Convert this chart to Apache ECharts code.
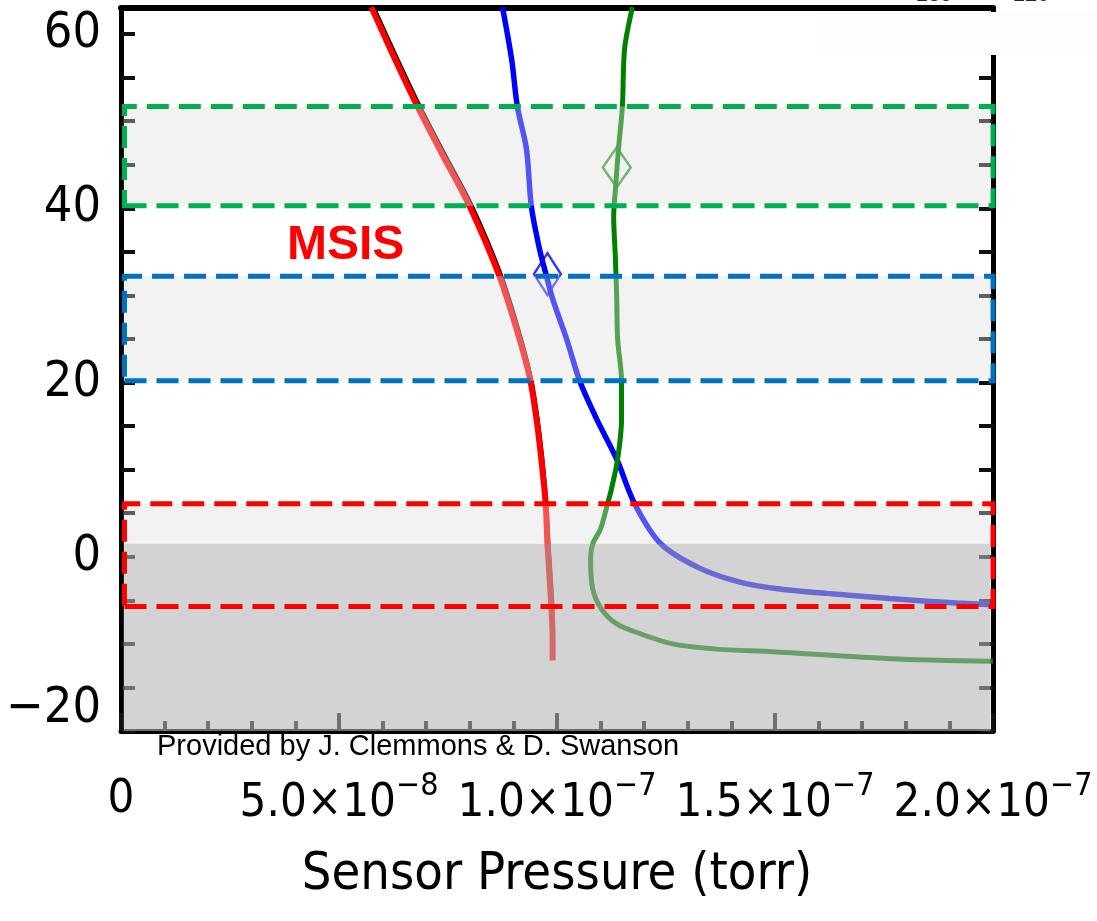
<!DOCTYPE html>
<html>
<head>
<meta charset="utf-8">
<script src="https://cdn.jsdelivr.net/npm/echarts@6/dist/echarts.min.js"></script>
<style>
  html, body { margin: 0; padding: 0; background: #fff; }
  #chart { width: 1097px; height: 921px; }
</style>
</head>
<body>
<div id="chart"></div>
<script>
// curves: [pressure (torr), altitude]
const redCurve = [
  [5.74e-8, 63.1], [6.25e-8, 57.5], [6.80e-8, 51.7], [7.39e-8, 46.0], [7.99e-8, 40.3],
  [8.68e-8, 32.2], [9.14e-8, 25.0], [9.39e-8, 20.2], [9.53e-8, 15.8], [9.64e-8, 11.2],
  [9.74e-8, 6.1], [9.78e-8, 1.5], [9.87e-8, -5.7], [9.90e-8, -9.4], [9.90e-8, -11.9]
];
const blackCurve = [
  [5.82e-8, 63.1], [6.33e-8, 57.5], [6.88e-8, 51.7], [7.47e-8, 46.0], [8.07e-8, 40.3],
  [8.75e-8, 32.2], [9.20e-8, 25.0], [9.44e-8, 20.2], [9.58e-8, 15.8], [9.69e-8, 11.2],
  [9.78e-8, 6.1], [9.83e-8, 1.5], [9.91e-8, -4.8], [9.93e-8, -7.7]
];
const blueCurve = [
  [8.75e-8, 63.1], [8.96e-8, 57.1], [9.09e-8, 51.7], [9.30e-8, 46.8], [9.41e-8, 40.3],
  [9.60e-8, 35.3], [9.76e-8, 32.2], [9.90e-8, 29.6], [10.22e-8, 25.0], [10.52e-8, 20.2],
  [10.91e-8, 15.8], [11.37e-8, 11.2], [11.78e-8, 6.1], [12.38e-8, 1.5], [13.27e-8, -1.3],
  [14.19e-8, -2.9], [15.11e-8, -3.7], [16.19e-8, -4.2], [17.63e-8, -4.8], [19.17e-8, -5.3],
  [20.0e-8, -5.5]
];
const greenCurve = [
  [11.73e-8, 63.1], [11.55e-8, 58.3], [11.50e-8, 51.7], [11.41e-8, 46.8], [11.34e-8, 42.2],
  [11.30e-8, 39.1], [11.34e-8, 34.2], [11.37e-8, 29.6], [11.39e-8, 25.0], [11.48e-8, 20.2],
  [11.48e-8, 15.8], [11.39e-8, 11.2], [11.25e-8, 7.8], [11.16e-8, 6.1], [11.00e-8, 3.2],
  [10.82e-8, 1.5], [10.77e-8, -0.2], [10.82e-8, -3.7], [11.02e-8, -6.0], [11.37e-8, -7.7],
  [11.89e-8, -8.8], [12.65e-8, -10.0], [13.66e-8, -10.6], [14.95e-8, -10.9], [17.64e-8, -11.7],
  [20.0e-8, -12.0]
];
const blueMarker = [[9.78e-8, 32.45]];
const greenMarker = [[11.37e-8, 44.7]];

// altitude bands [bottom, top]
const greenBand = [40.3, 51.7];
const blueBand = [20.2, 32.2];
const redBand = [-5.7, 6.1];
const groundBand = [-20, 1.5];

const xTickLabels = [['0', ''], ['5.0×10', '−8'], ['1.0×10', '−7'], ['1.5×10', '−7'], ['2.0×10', '−7']];
const yLabelValues = [-20, 0, 20, 40, 60];
const yTickValues = [-20, -15, -10, -5, 0, 5, 10, 15, 20, 25, 30, 35, 40, 45, 50, 55, 60];

const FONT = "'DejaVu Sans Condensed', 'Liberation Sans Narrow', 'DejaVu Sans', sans-serif";
const LIGHT = 'rgba(221,221,221,0.38)';
const DARK = 'rgba(180,180,180,0.59)';

const chart = echarts.init(document.getElementById('chart'));

const fillArea = (band, color) => [
  { xAxis: 0.06e-8, yAxis: band[0], itemStyle: { color: color } },
  { xAxis: 19.94e-8, yAxis: band[1] }
];
const borderArea = (band, color) => [
  { xAxis: 0.08e-8, yAxis: band[0], itemStyle: { color: 'rgba(0,0,0,0)', borderColor: color, borderWidth: 5, borderType: [22, 10] } },
  { xAxis: 20.05e-8, yAxis: band[1] }
];

const yAxisBase = {
  type: 'value',
  min: -20,
  max: 63,
  interval: 10,
  splitLine: { show: false },
  axisLine: { show: true, onZero: false, lineStyle: { color: '#000', width: 5 } },
  axisTick: { show: true, inside: true, length: 14, customValues: yTickValues, lineStyle: { color: '#111', width: 4 } }
};

chart.setOption({
  animation: false,
  grid: { left: 121, right: 104, top: 8, bottom: 190, containLabel: false, outerBoundsMode: 'none' },
  xAxis: [
    {
      type: 'value',
      position: 'bottom',
      min: 0,
      max: 2e-7,
      interval: 5e-8,
      splitLine: { show: false },
      axisLine: { show: true, onZero: false, lineStyle: { color: '#000', width: 5 } },
      axisTick: { show: true, inside: true, length: 18, lineStyle: { color: '#111', width: 4 } },
      minorTick: { show: true, splitNumber: 5, length: 10, lineStyle: { color: '#111', width: 4 } },
      axisLabel: {
        margin: 40,
        hideOverlap: false,
        showMaxLabel: true,
        showMinLabel: true,
        formatter: (v, i) => {
          const t = xTickLabels[i];
          return t[1] ? '{m|' + t[0] + '}{s|' + t[1] + '}' : '{z|' + t[0] + '}';
        },
        rich: {
          m: { fontFamily: FONT, fontSize: 47, color: '#000' },
          z: { fontFamily: FONT, fontSize: 47, color: '#000', padding: [5, 0, 0, 0] },
          s: { fontFamily: FONT, fontSize: 32, color: '#000', padding: [0, 0, 34, 0] }
        }
      },
      name: 'Sensor Pressure (torr)',
      nameLocation: 'middle',
      nameGap: 118,
      nameTextStyle: { fontFamily: FONT, fontSize: 52, color: '#000' }
    },
    {
      type: 'value',
      position: 'top',
      min: 0,
      max: 2e-7,
      splitLine: { show: false },
      axisLine: { show: true, onZero: false, lineStyle: { color: '#000', width: 6 } },
      axisTick: { show: false },
      axisLabel: { show: false }
    }
  ],
  yAxis: [
    Object.assign({}, yAxisBase, {
      position: 'left',
      axisLabel: {
        margin: 20,
        customValues: yLabelValues,
        fontFamily: FONT,
        fontSize: 50,
        color: '#000',
        formatter: v => v < 0 ? '{lo|−' + Math.abs(v) + '}' : String(v),
        rich: { lo: { fontFamily: FONT, fontSize: 50, color: '#000', padding: [0, 0, 44, 0] } }
      }
    }),
    Object.assign({}, yAxisBase, { position: 'right', axisLabel: { show: false } })
  ],
  series: [
    { type: 'line', data: blackCurve, showSymbol: false, smooth: 0.3, lineStyle: { color: '#000', width: 2 }, z: 2 },
    { type: 'line', data: redCurve, showSymbol: false, smooth: 0.3, lineStyle: { color: '#ff0000', width: 6 }, z: 2 },
    { type: 'line', data: blueCurve, showSymbol: false, smooth: 0.3, lineStyle: { color: '#0000ff', width: 5.5 }, z: 2 },
    { type: 'line', data: greenCurve, showSymbol: false, smooth: 0.3, lineStyle: { color: '#008000', width: 5 }, z: 2 },
    {
      type: 'scatter', data: blueMarker, symbol: 'diamond', symbolSize: [27, 42], z: 2,
      itemStyle: { color: 'rgba(0,0,0,0)', borderColor: '#0000ff', borderWidth: 2.5 }
    },
    {
      type: 'scatter', data: greenMarker, symbol: 'diamond', symbolSize: [28, 40], z: 2,
      itemStyle: { color: 'rgba(0,0,0,0)', borderColor: '#008000', borderWidth: 2.5 }
    },
    {
      type: 'line', data: [], clip: false, silent: true,
      markArea: {
        z: 3, silent: true, label: { show: false },
        data: [
          fillArea(groundBand, DARK),
          fillArea([groundBand[1], redBand[1]], LIGHT),
          fillArea(blueBand, LIGHT),
          fillArea(greenBand, LIGHT)
        ]
      }
    },
    {
      type: 'line', data: [], clip: false, silent: true,
      markArea: {
        z: 4, silent: true, label: { show: false },
        data: [
          borderArea(redBand, '#ff0000'),
          borderArea(blueBand, '#0070c0'),
          borderArea(greenBand, '#00b050')
        ]
      }
    }
  ],
  graphic: [
    { type: 'rect', shape: { x: 817, y: 12, width: 280, height: 43 }, style: { fill: '#fdfdfd' }, z: 100 },
    { type: 'text', x: 903, y: 6, z: 101, style: { text: '−135', fontFamily: 'Liberation Sans', fontSize: 22, fill: '#222', verticalAlign: 'bottom' } },
    { type: 'text', x: 1000, y: 6, z: 101, style: { text: '−120', fontFamily: 'Liberation Sans', fontSize: 22, fill: '#222', verticalAlign: 'bottom' } },
    { type: 'text', left: 287, top: 222, z: 100, style: { text: 'MSIS', fontFamily: 'Liberation Sans', fontWeight: 'bold', fontSize: 48, fill: '#ff0000' } },
    { type: 'text', left: 157, top: 732, z: 100, style: { text: 'Provided by J. Clemmons & D. Swanson', fontFamily: 'Liberation Sans', fontSize: 29, fill: '#000' } }
  ]
});
</script>
</body>
</html>
